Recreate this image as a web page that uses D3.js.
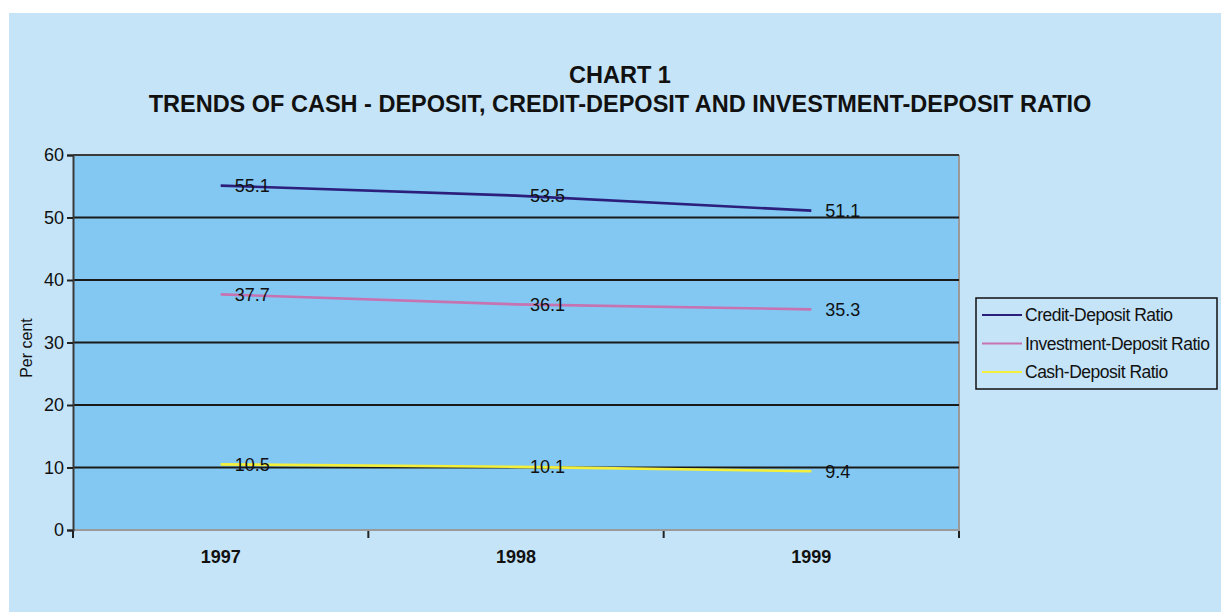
<!DOCTYPE html>
<html>
<head>
<meta charset="utf-8">
<script src="https://cdn.jsdelivr.net/npm/d3@7"></script>
<style>
  html, body { margin: 0; padding: 0; background: #ffffff; }
  svg { display: block; font-family: "Liberation Sans", Arial, sans-serif; }
</style>
</head>
<body>
<svg id="chart" width="1221" height="612"></svg>
<script>
// Years on the category axis
const years = ["1997", "1998", "1999"];

// Ratios (per cent)
const creditDeposit = [55.1, 53.5, 51.1];
const investmentDeposit = [37.7, 36.1, 35.3];
const cashDeposit = [10.5, 10.1, 9.4];

const seriesNames = ["Credit-Deposit Ratio", "Investment-Deposit Ratio", "Cash-Deposit Ratio"];
const seriesColors = ["#2c1f7c", "#c772b1", "#f3ef3a"];

const yTicks = [0, 10, 20, 30, 40, 50, 60];

const titleLines = ["CHART 1", "TRENDS OF CASH - DEPOSIT, CREDIT-DEPOSIT AND INVESTMENT-DEPOSIT RATIO"];
const yAxisLabel = "Per cent";

const series = [creditDeposit, investmentDeposit, cashDeposit].map((vals, i) => ({
  name: seriesNames[i],
  color: seriesColors[i],
  values: vals.map((v, j) => ({ year: years[j], value: v }))
}));

const svg = d3.select("#chart");

// Light blue panel behind everything
svg.append("rect")
  .attr("x", 9).attr("y", 13)
  .attr("width", 1212).attr("height", 599)
  .attr("fill", "#c5e4f8");

const plot = { left: 73, right: 959, top: 155, bottom: 530 };

const x = d3.scaleBand().domain(years).range([plot.left, plot.right]).paddingInner(0).paddingOuter(0);
const y = d3.scaleLinear().domain([0, 60]).range([plot.bottom, plot.top]);
const cx = d => x(d) + x.bandwidth() / 2;

// Plot area
svg.append("rect")
  .attr("x", plot.left).attr("y", plot.top)
  .attr("width", plot.right - plot.left).attr("height", plot.bottom - plot.top)
  .attr("fill", "#82c8f2");

// Right frame
svg.append("line")
  .attr("x1", plot.right).attr("x2", plot.right)
  .attr("y1", plot.top).attr("y2", plot.bottom)
  .attr("stroke", "#9a9a9a").attr("stroke-width", 2);

// Horizontal gridlines
svg.append("g")
  .selectAll("line")
  .data(yTicks.filter(t => t > 0))
  .join("line")
  .attr("x1", plot.left).attr("x2", plot.right)
  .attr("y1", d => y(d)).attr("y2", d => y(d))
  .attr("stroke", d => d === 60 ? "#3a3a3a" : "#1a1a1a")
  .attr("stroke-width", 2);

// Bottom frame
svg.append("line")
  .attr("x1", plot.left).attr("x2", plot.right + 1)
  .attr("y1", plot.bottom).attr("y2", plot.bottom)
  .attr("stroke", "#9a9a9a").attr("stroke-width", 2);

// Y axis
const yAxis = d3.axisLeft(y).tickValues(yTicks).tickSize(6).tickPadding(3).tickFormat(d3.format("d"));
const yG = svg.append("g").attr("transform", `translate(${plot.left},0)`).call(yAxis);
yG.select(".domain").attr("stroke", "#3a3a3a").attr("stroke-width", 2);
yG.selectAll(".tick line").attr("stroke", "#222").attr("stroke-width", 2);
yG.selectAll(".tick text")
  .attr("font-size", 18)
  .attr("font-family", "'Liberation Sans', Arial, sans-serif")
  .attr("fill", "#111");

// X axis: ticks at the category boundaries
const boundaries = years.map(d => x(d)).concat([plot.right]);
svg.append("g")
  .selectAll("line")
  .data(boundaries)
  .join("line")
  .attr("x1", d => d).attr("x2", d => d)
  .attr("y1", plot.bottom + 1).attr("y2", plot.bottom + 8)
  .attr("stroke", "#222").attr("stroke-width", 2);

svg.append("g")
  .selectAll("text")
  .data(years)
  .join("text")
  .attr("x", d => cx(d))
  .attr("y", 563)
  .attr("text-anchor", "middle")
  .attr("font-size", 18)
  .attr("font-weight", "bold")
  .attr("fill", "#111")
  .text(d => d);

// Y axis title
svg.append("text")
  .attr("transform", "translate(32,348) rotate(-90)")
  .attr("text-anchor", "middle")
  .attr("font-size", 16)
  .attr("fill", "#111")
  .text(yAxisLabel);

// Title
svg.append("g")
  .selectAll("text")
  .data(titleLines)
  .join("text")
  .attr("x", 620)
  .attr("y", (d, i) => 83 + i * 28.5)
  .attr("text-anchor", "middle")
  .attr("font-size", 23.5)
  .attr("font-weight", "bold")
  .attr("fill", "#111")
  .text(d => d);

// Series lines
const line = d3.line()
  .x(d => cx(d.year))
  .y(d => y(d.value));

svg.append("g")
  .selectAll("path")
  .data(series)
  .join("path")
  .attr("d", d => line(d.values))
  .attr("fill", "none")
  .attr("stroke", d => d.color)
  .attr("stroke-width", 2.6);

// Value labels to the right of each point
svg.append("g")
  .selectAll("text")
  .data(series.flatMap(s => s.values))
  .join("text")
  .attr("x", d => cx(d.year) + 14)
  .attr("y", d => y(d.value))
  .attr("dy", "0.36em")
  .attr("font-size", 18)
  .attr("fill", "#111")
  .text(d => d.value.toFixed(1));

// Legend
const legend = svg.append("g");
legend.append("rect")
  .attr("x", 976).attr("y", 298)
  .attr("width", 241).attr("height", 91)
  .attr("fill", "#c5e4f8")
  .attr("stroke", "#111").attr("stroke-width", 1.5);

const items = legend.selectAll("g.item")
  .data(series)
  .join("g")
  .attr("class", "item")
  .attr("transform", (d, i) => `translate(0,${315 + i * 28.5})`);

items.append("line")
  .attr("x1", 982).attr("x2", 1022)
  .attr("y1", 0).attr("y2", 0)
  .attr("stroke", d => d.color)
  .attr("stroke-width", 2);

items.append("text")
  .attr("x", 1025)
  .attr("y", 0)
  .attr("dy", "0.36em")
  .attr("font-size", 17.5)
  .attr("letter-spacing", -0.5)
  .attr("fill", "#111")
  .text(d => d.name);
</script>
</body>
</html>
